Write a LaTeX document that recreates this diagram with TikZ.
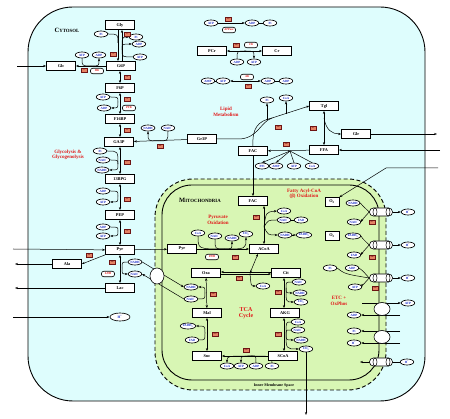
\documentclass[tikz,border=0pt]{standalone}
\usepackage{fontspec}
\setmainfont{Liberation Serif}
\usetikzlibrary{shapes.geometric,arrows.meta}
\definecolor{cyto}{RGB}{222,253,253}
\definecolor{mito}{RGB}{216,246,180}
\definecolor{enzf}{RGB}{228,130,100}
\definecolor{enzd}{RGB}{110,20,20}
\definecolor{metb}{RGB}{25,45,200}
\definecolor{labr}{RGB}{225,25,25}
\pgfdeclarelayer{bg}
\pgfdeclarelayer{wires}
\pgfsetlayers{bg,wires,main}
\newcommand{\mynadp}{NAD\textsuperscript{+}}
\newcommand{\myfadh}{FADH\textsubscript{2}}
\newcommand{\myco}{CO\textsubscript{2}}
\newcommand{\myhp}{H\textsuperscript{+}}
\newcommand{\cvin}[2]{\draw[ln] (#1) .. controls (#1 -| #2) .. (#2);}
\newcommand{\cvout}[2]{\draw[arr] (#1) .. controls (#2 -| #1) .. (#2);}
\newcommand{\chin}[2]{\draw[ln] (#1) .. controls (#1 |- #2) .. (#2);}
\newcommand{\chout}[2]{\draw[arr] (#1) .. controls (#2 |- #1) .. (#2);}
\begin{document}
\begin{tikzpicture}[x=1pt,y=-1pt,
 box/.style={draw,fill=white,line width=0.7pt,minimum width=29pt,minimum height=9pt,inner sep=0pt,font=\bfseries\fontsize{4.3}{4.3}\selectfont},
 met/.style={ellipse,draw,fill=white,line width=0.65pt,minimum width=13.5pt,minimum height=6pt,inner sep=0.2pt,text=metb,font=\bfseries\fontsize{3.2}{3.2}\selectfont},
 enz/.style={draw=enzd,fill=enzf,line width=0.45pt,minimum width=5.5pt,minimum height=4.4pt,inner sep=0pt,text=enzd,font=\bfseries\fontsize{2.8}{2.8}\selectfont},
 elab/.style={draw,fill=white,rounded corners=2.2pt,line width=0.6pt,minimum width=13pt,minimum height=5.5pt,inner sep=0.6pt,text=labr,font=\bfseries\itshape\fontsize{3}{3}\selectfont},
 ttl/.style={text=labr,font=\bfseries\fontsize{5}{5.6}\selectfont,align=center},
 arr/.style={-{Stealth[length=3pt,width=2.2pt]},line width=0.5pt},
 darr/.style={{Stealth[length=3pt,width=2.2pt]}-{Stealth[length=3pt,width=2.2pt]},line width=0.5pt},
 ln/.style={line width=0.5pt},
 pore/.style={ellipse,draw,fill=white,line width=0.6pt,minimum width=16pt,minimum height=13pt,inner sep=0pt},
 chan/.style={draw,fill=white,rounded corners=3.8pt,line width=0.6pt,minimum width=23pt,minimum height=8pt,inner sep=0pt}]
\useasboundingbox (0,0) rectangle (450,419);
\begin{pgfonlayer}{bg}
\draw[line width=0.9pt,fill=cyto,rounded corners=45pt] (28,7) rectangle (425,401);
\draw[line width=0.9pt,fill=mito,dash pattern=on 4pt off 2.5pt,rounded corners=38pt] (155,179) rectangle (386,390);
\draw[line width=0.9pt,rounded corners=30pt] (162,185) rectangle (379,380);
\end{pgfonlayer}
% titles
\node (tcyt) at (67,30) {\bfseries\fontsize{6.5}{6.5}\selectfont C\fontsize{4.8}{4.8}\selectfont YTOSOL};
\node (tmit) at (200,200) {\bfseries\fontsize{6.5}{6.5}\selectfont M\fontsize{4.8}{4.8}\selectfont ITOCHONDRIA};
\node (tims) at (274,386) {\bfseries\fontsize{4}{4}\selectfont Inner Membrane Space};
\node[ttl] (tgly) at (68,155) {Glycolysis \&\\Glycogenolysis};
\node[ttl] (tlip) at (226,112) {Lipid\\Metabolism};
\node[ttl] (tpyr) at (218,220) {Pyruvate\\Oxidation};
\node[ttl] (tfa) at (304,194) {Fatty Acyl-CoA\\(β) Oxidation};
\node[ttl,font=\bfseries\fontsize{6}{6.6}\selectfont] (ttca) at (246,313) {TCA\\Cycle};
\node[ttl] (tetc) at (339,301) {ETC +\\OxPhos};
% boxes
\node[box] (gly) at (120,25) {Gly};
\node[box] (g6p) at (121,66) {G6P};
\node[box] (glc) at (61,66) {Glc};
\node[box] (f6p) at (120,88) {F6P};
\node[box] (f16) at (120,119) {F16BP};
\node[box] (ga3p) at (119,142) {GA3P};
\node[box] (bpg) at (120,179) {13BPG};
\node[box] (pep) at (120,215) {PEP};
\node[box] (pyrc) at (120,250) {Pyr};
\node[box] (ala) at (67,264) {Ala};
\node[box] (lac) at (120,288) {Lac};
\node[box] (pcr) at (212,51) {PCr};
\node[box] (cr) at (277,51) {Cr};
\node[box] (gr3p) at (202,139) {Gr3P};
\node[box] (tgl) at (324,106) {Tgl};
\node[box] (glr) at (356,134) {Glr};
\node[box] (ffa) at (324,150) {FFA};
\node[box] (facc) at (253,151) {FAC};
\node[box] (facm) at (253,201) {FAC};
\node[box] (pyrm) at (182,249) {Pyr};
\node[box] (acoa) at (264,249) {ACoA};
\node[box] (oxa) at (206,273) {Oxa};
\node[box] (cit) at (286,273) {Cit};
\node[box] (mal) at (207,313) {Mal};
\node[box] (akg) at (285,313) {AKG};
\node[box] (suc) at (207,356) {Suc};
\node[box] (scoa) at (283,356) {SCoA};
\node[box,minimum width=14pt] (o2a) at (332,202) {O\textsubscript{2}};
\node[box,minimum width=14pt] (o2b) at (332,236) {O\textsubscript{2}};
% cytosol metabolites
\node[met] (pi1) at (101,34) {Pi};
\node[met] (pi2) at (136,37) {Pi};
\node[met] (adp1) at (139,44) {ADP};
\node[met] (atp1) at (140,57) {ATP};
\node[met] (atp2) at (82,55) {ATP};
\node[met] (adp2) at (99,55) {ADP};
\node[met] (atp3) at (103,97) {ATP};
\node[met] (adp3) at (104,108) {ADP};
\node[met] (pi4) at (100,151) {Pi};
\node[met] (nad4) at (103,160) {\mynadp};
\node[met] (nadh4) at (102,170) {NADH};
\node[met] (adp5) at (103,191) {ADP};
\node[met] (atp5) at (103,202) {ATP};
\node[met] (adp6) at (103,227) {ADP};
\node[met] (atp6) at (103,236) {ATP};
\node[met] (nadh7) at (135,262) {NADH};
\node[met] (nad7) at (135,274) {\mynadp};
\node[met,minimum width=20pt,minimum height=8pt,font=\bfseries\fontsize{3.6}{3.6}\selectfont] (hc) at (120,317) {\myhp};
\node[met] (nadh8) at (148,128) {NADH};
\node[met] (nad8) at (168,128) {\mynadp};
\node[met] (atpa) at (211,23) {ATP};
\node[met] (adpa) at (252,23) {ADP};
\node[met] (pia) at (270,23) {Pi};
\node[met] (adpc) at (237,62) {ADP};
\node[met] (atpc) at (254,62) {ATP};
\node[met] (ampk) at (208,81) {AMP};
\node[met] (atpk) at (223,81) {ATP};
\node[met] (adpk1) at (268,81) {ADP};
\node[met] (adpk2) at (286,81) {ADP};
\node[met] (pil) at (267,100) {Pi};
\node[met] (coal) at (286,98) {CoA};
\node[met] (ppi) at (262,166) {PPi};
\node[met] (amp) at (276,166) {AMP};
\node[met] (atpf) at (294,166) {ATP};
\node[met] (coaf) at (312,166) {CoA};
% mito metabolites
\node[met] (coap) at (198,233) {CoA};
\node[met] (nadp) at (215,236) {\mynadp};
\node[met] (nadhp) at (232,238) {NADH};
\node[met] (co2p) at (246,234) {\myco};
\node[met] (coab) at (284,211) {CoA};
\node[met] (nadb) at (284,220) {\mynadp};
\node[met] (nadhb) at (285,235) {NADH};
\node[met] (fadb) at (301,220) {FAD};
\node[met] (fadhb) at (304,235) {\myfadh};
\node[met] (coac) at (263,286) {CoA};
\node[met] (nadk) at (299,282) {\mynadp};
\node[met] (nadhk) at (300,293) {NADH};
\node[met] (co2k) at (301,302) {\myco};
\node[met] (coas) at (298,322) {CoA};
\node[met] (nads) at (298,330) {\mynadp};
\node[met] (nadhs) at (301,340) {NADH};
\node[met] (co2s) at (306,349) {\myco};
\node[met] (coasc) at (227,366) {CoA};
\node[met] (atps) at (241,366) {ATP};
\node[met] (adps) at (256,366) {ADP};
\node[met] (pis) at (272,366) {Pi};
\node[met] (fadh2) at (188,326) {\myfadh};
\node[met] (fad) at (192,340) {FAD};
\node[met] (nadhm) at (191,287) {NADH};
\node[met] (nadm) at (191,299) {\mynadp};
% ETC metabolites
\node[met] (nadhe) at (353,203) {NADH};
\node[met] (nade) at (354,222) {\mynadp};
\node[met] (fadhe) at (353,236) {\myfadh};
\node[met] (fade) at (354,255) {FAD};
\node[met] (pie) at (330,268) {Pi};
\node[met] (adpe) at (352,268) {ADP};
\node[met] (atpe) at (355,287) {ATP};
\node[met] (hr1) at (408,212) {\myhp};
\node[met] (hr2) at (408,245) {\myhp};
\node[met] (hr3) at (408,278) {\myhp};
\node[met] (atpo) at (408,303) {ATP};
\node[met] (adpi) at (354,315) {ADP};
\node[met] (pii) at (354,331) {Pi};
\node[met] (hi) at (354,343) {\myhp};
\node[met] (hr4) at (407,362) {\myhp};
% channels and pores
\node[chan] (ch1) at (381,212) {};
\node[chan] (ch2) at (381,245) {};
\node[chan] (ch3) at (381,278) {};
\node[chan] (ch4) at (381,362) {};
\foreach \c in {ch1,ch2,ch3,ch4}{
  \draw[line width=0.5pt] ([xshift=-6pt]\c.center) ellipse [x radius=2pt, y radius=4pt];
  \draw[line width=0.5pt] ([xshift=7pt]\c.center) ellipse [x radius=2pt, y radius=4pt];}
\node[pore] (po1) at (382,309) {};
\node[pore] (po2) at (382,337) {};
\node[pore,minimum width=14pt,minimum height=16pt] (posh) at (157,276) {};
% enzyme labels
\node[elab] (hk) at (97,71) {HK};
\node[elab] (pfk) at (129,108) {PFK};
\node[elab] (ldh) at (108,274) {LDH};
\node[elab] (pdh) at (212,257) {PDH};
\node[elab] (ck) at (251,45) {CK};
\node[elab] (ak) at (247,77) {AK};
\node[elab] (atpase) at (229,30) {ATPase};
% enzyme number boxes
\node[enz] (e1) at (84,70) {1};
\node[enz] (e2) at (127,34) {2};
\node[enz] (e3) at (113,54) {3};
\node[enz] (e4) at (127,77) {4};
\node[enz] (e5) at (127,99) {5};
\node[enz] (e6) at (127,130) {6};
\node[enz] (e7) at (127,162) {7};
\node[enz] (e8) at (127,199) {8};
\node[enz] (e9) at (127,231) {9};
\node[enz] (e10) at (112,262) {10};
\node[enz] (e11) at (89,255) {11};
\node[enz] (e12) at (160,146) {12};
\node[enz] (e13) at (228,19) {13};
\node[enz] (e14) at (236,45) {14};
\node[enz] (e15) at (248,86) {15};
\node[enz] (e16) at (278,127) {16};
\node[enz] (e17) at (313,128) {17};
\node[enz] (e18) at (286,144) {18};
\node[enz] (e19) at (256,217) {19};
\node[enz] (e20) at (235,257) {20};
\node[enz] (e21) at (239,278) {21};
\node[enz] (e22) at (278,292) {22};
\node[enz] (e23) at (278,334) {23};
\node[enz] (e24) at (246,350) {24};
\node[enz] (e25) at (215,334) {25};
\node[enz] (e26) at (213,294) {26};
\node[enz] (e27) at (372,222) {27};
\node[enz] (e28) at (372,257) {28};
\node[enz] (e29) at (375,288) {29};
% coordinates
\coordinate (glcin) at (17,66);
\coordinate (pyrin) at (13,249);
\coordinate (alaout) at (15,264);
\coordinate (lacout) at (15,288);
\coordinate (hin) at (13,317);
\coordinate (glrout) at (437,134);
\coordinate (ffain) at (440,150);
\coordinate (o2in) at (438,168);
\coordinate (o2bend) at (386,168);
\coordinate (co2end) at (306,415);
\coordinate (pgA) at (118,43);
\coordinate (pgB) at (122,50);
\coordinate (pgc) at (91,66);
\coordinate (pf) at (118,102);
\coordinate (pga) at (118,164);
\coordinate (pb) at (118,196);
\coordinate (pp) at (118,231);
\coordinate (lj) at (122,268);
\coordinate (pgr) at (158,141);
\coordinate (pck) at (245,51);
\coordinate (lj1) at (272,118);
\coordinate (pl1) at (267,120);
\coordinate (pl2) at (286,113.6);
\coordinate (tj) at (324,118);
\coordinate (pfa) at (290,151);
\coordinate (bj) at (264,227);
\coordinate (pj) at (224,249);
\coordinate (cj) at (250,273);
\coordinate (pk) at (286,288);
\coordinate (ps) at (286,333);
\coordinate (sj) at (252,356);
\coordinate (pfd) at (205,333);
\coordinate (pm) at (205,293);
\coordinate (a1) at (362,303);
\coordinate (a2) at (400,315);
\coordinate (a3) at (400,331);
\coordinate (a4) at (400,343);
\coordinate (a5) at (360,362);
\begin{pgfonlayer}{wires}
% glycolysis
\draw[arr] (glcin) -- (glc);
\draw[arr] (g6p) -- (glc);
\chin{atp2.south}{pgc}
\chout{pgc}{adp2.south}
\draw[arr] ([xshift=-2pt]gly.south) -- ([xshift=-3pt]g6p.north);
\draw[arr] ([xshift=1pt]g6p.north) -- ([xshift=2pt]gly.south);
\cvin{pi1.east}{pgA}
\cvin{atp1.west}{pgB}
\cvout{pgB}{adp1.west}
\cvout{pgB}{pi2.west}
\draw[darr] ([xshift=-1pt]g6p.south) -- (f6p.north);
\draw[darr] (f6p.south) -- (f16.north);
\cvin{atp3.east}{pf}
\cvout{pf}{adp3.east}
\draw[darr] (f16.south) -- ([xshift=1pt]ga3p.north);
\draw[darr] ([xshift=1pt]ga3p.south) -- (bpg.north);
\cvin{pi4.east}{pga}
\cvin{nad4.east}{pga}
\cvout{pga}{nadh4.east}
\draw[darr] (bpg.south) -- (pep.north);
\cvin{adp5.east}{pb}
\cvout{pb}{atp5.east}
\draw[darr] (pep.south) -- (pyrc.north);
\cvin{adp6.east}{pp}
\cvout{pp}{atp6.east}
\draw[arr] (pyrin) -- (pyrc);
\draw[arr] (pyrc) -- (pyrm);
\draw[arr] (pyrc.south west) -- (ala.east);
\draw[arr] (ala) -- (alaout);
\draw[darr] (pyrc.south) -- (lac.north);
\cvin{nadh7.west}{lj}
\cvout{lj}{nad7.west}
\draw[arr] (lac) -- (lacout);
\draw[arr] (hin) -- (hc);
% shuttle
\draw[arr] (nadh7.east) -- (nadhm.west);
\draw[arr] (nadm.west) -- (nad7.east);
% energy buffers
\draw[arr] (atpa) -- (adpa);
\draw[ln] (adpa) -- (pia);
\draw[darr] (pcr) -- (cr);
\chin{adpc.north}{pck}
\chout{pck}{atpc.north}
\draw[ln] (ampk) -- (atpk);
\draw[darr] (atpk) -- (adpk1);
\draw[ln] (adpk1) -- (adpk2);
% lipids
\draw[arr] (gr3p) -- (ga3p);
\chin{nad8.south}{pgr}
\chout{pgr}{nadh8.south}
\draw[arr] (gr3p.east) -- (238,139) .. controls (258,139) and (260,122) .. (lj1) -- (tgl.west);
\draw[ln] (facc.north) .. controls (252,128) and (258,121) .. (lj1);
\draw[arr] (pl1) -- (pil.south);
\draw[arr] (pl2) -- (coal.south);
\draw[darr] (ffa.north) -- (tgl.south);
\draw[arr] (tj) .. controls (326,130) and (332,134) .. (glr.west);
\draw[arr] (glr) -- (glrout);
\draw[arr] (ffain) -- (ffa);
\draw[arr] (ffa) -- (facc);
\draw[ln] (atpf.north) -- (pfa);
\draw[ln] (coaf.north) -- (pfa);
\draw[arr] (pfa) -- (amp.north);
\draw[arr] (pfa) -- (ppi.north);
\draw[arr] (facc) -- (facm);
% beta oxidation
\draw[darr] (facm.south -| acoa.north) -- (acoa.north);
\draw[arr] (bj) .. controls (266,212) .. (coab.west);
\draw[ln] (nadb.west) .. controls (268,220) .. (bj);
\draw[arr] (bj) .. controls (268,235) .. (nadhb.west);
\draw[ln] (fadb) -- (nadb);
\draw[arr] (nadhb) -- (fadhb);
% pyruvate oxidation
\draw[arr] (pyrm) -- (acoa);
\chin{coap.south}{pj}
\chin{nadp.south}{pj}
\chout{pj}{nadhp.south}
\chout{pj}{co2p.south}
% TCA
\draw[darr] ([xshift=-6pt]acoa.south) -- (cj);
\draw[arr] (cj) .. controls (251,286) .. (coac.west);
\draw[arr] ([yshift=-1pt]oxa.east) -- ([yshift=-1pt]cit.west);
\draw[arr] ([yshift=1pt]cit.west) -- ([yshift=1pt]oxa.east);
\draw[darr] ([xshift=-2pt]cit.south) -- ([xshift=-1pt]akg.north);
\cvin{nadk.west}{pk}
\cvout{pk}{nadhk.west}
\cvout{pk}{co2k.west}
\draw[darr] ([xshift=-1pt]akg.south) -- ([xshift=1pt]scoa.north);
\cvin{coas.west}{ps}
\cvin{nads.west}{ps}
\cvout{ps}{nadhs.west}
\cvout{ps}{co2s.west}
\draw[arr] (co2s) -- (co2end);
\draw[arr] (scoa) -- (suc);
\chin{pis.north}{sj}
\chin{adps.north}{sj}
\chout{sj}{atps.north}
\chout{sj}{coasc.north}
\draw[darr] (suc) -- (mal);
\cvin{fad.east}{pfd}
\cvout{pfd}{fadh2.east}
\draw[darr] (mal) -- (oxa);
\cvin{nadm.east}{pm}
\cvout{pm}{nadhm.east}
% ETC
\draw[arr] (o2in) -- (o2bend) -- (o2a.north east);
\draw[ln] (nadhe.east) .. controls (362,205) .. (ch1.west);
\draw[arr] (ch1.west) .. controls (362,220) .. (nade.east);
\draw[arr] (ch1) -- (hr1);
\draw[ln] (fadhe.east) .. controls (362,238) .. (ch2.west);
\draw[arr] (ch2.west) .. controls (362,253) .. (fade.east);
\draw[arr] (ch2) -- (hr2);
\draw[ln] (pie.east) .. controls (345,274) .. (ch3.west);
\draw[ln] (adpe.east) .. controls (362,270) .. (ch3.west);
\draw[arr] (ch3.west) .. controls (362,286) .. (atpe.east);
\draw[arr] (ch3) -- (hr3);
\draw[arr] (a1) -- (atpo);
\draw[arr] (a2) -- (adpi);
\draw[arr] (a3) -- (pii);
\draw[arr] (a4) -- (hi);
\draw[arr] (hr4) -- (a5);
\end{pgfonlayer}
\end{tikzpicture}
\end{document}
